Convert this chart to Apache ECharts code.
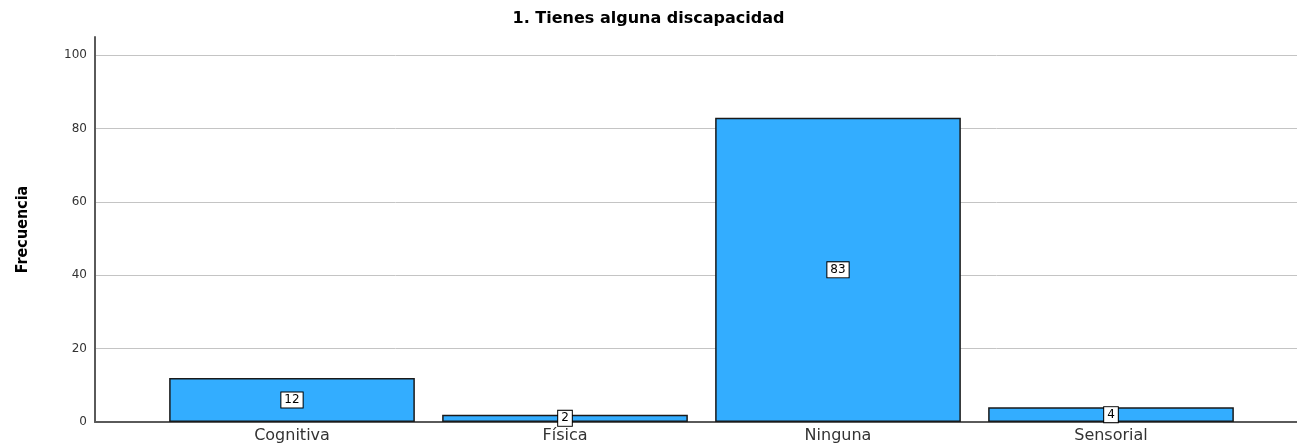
<!DOCTYPE html>
<html>
<head>
<meta charset="utf-8">
<script src="https://cdn.jsdelivr.net/npm/echarts@6/dist/echarts.min.js"></script>
<style>
  html, body { margin: 0; padding: 0; background: #fff; }
  #chart { width: 1297px; height: 445px; }
</style>
</head>
<body>
<div id="chart"></div>
<script>
// datos
var categorias = ['Cognitiva', 'Física', 'Ninguna', 'Sensorial'];
var frecuencias = [12, 2, 83, 4];
var titulo = '1. Tienes alguna discapacidad';
var nombreEjeY = 'Frecuencia';

var myChart = echarts.init(document.getElementById('chart'));

var yComun = {
  type: 'value',
  min: 0,
  max: 105,
  interval: 20
};

var option = {
  animation: false,
  title: {
    text: titulo,
    left: 'center',
    top: 6,
    textStyle: { fontFamily: 'DejaVu Sans', fontSize: 16, fontWeight: 'bold', color: '#000' }
  },
  grid: [
    // marco: eje y, lineas de rejilla y eje x
    { left: 95, right: 0, top: 37, bottom: 23 },
    // barras
    { left: 155.5, right: 49.5, top: 37, bottom: 23 }
  ],
  xAxis: [
    {
      gridIndex: 0,
      type: 'category',
      data: [''],
      axisLine: { show: true, lineStyle: { color: '#5a5a5a', width: 2 } },
      axisTick: { show: false },
      axisLabel: { show: false },
      splitLine: { show: false }
    },
    {
      gridIndex: 1,
      type: 'category',
      data: categorias,
      axisLine: { show: false },
      axisTick: { show: false },
      axisLabel: { margin: 6, fontFamily: 'DejaVu Sans', fontSize: 16, color: '#333' }
    }
  ],
  yAxis: [
    Object.assign({}, yComun, {
      gridIndex: 0,
      name: nombreEjeY,
      nameLocation: 'middle',
      nameGap: 64,
      nameTextStyle: {
        fontFamily: "'DejaVu Sans Condensed', 'Liberation Sans', sans-serif",
        fontSize: 16, fontWeight: 'bold', color: '#000'
      },
      axisLine: { show: true, lineStyle: { color: '#5a5a5a', width: 2 } },
      axisTick: { show: false },
      axisLabel: {
        margin: 8,
        fontFamily: 'DejaVu Sans',
        fontSize: 12,
        color: '#333',
        formatter: function (v) { return v % 20 === 0 ? v : ''; }
      },
      splitLine: { show: true, showMaxLine: false, showMinLine: false, lineStyle: { color: '#c4c4c4', width: 1 } }
    }),
    Object.assign({}, yComun, {
      gridIndex: 1,
      show: false,
      splitLine: { show: false }
    })
  ],
  series: [{
    type: 'bar',
    xAxisIndex: 1,
    yAxisIndex: 1,
    data: frecuencias,
    barCategoryGap: '10%',
    itemStyle: { color: '#33adff', borderColor: '#1a1a1a', borderWidth: 1.5 },
    label: {
      show: true,
      position: 'inside',
      fontFamily: 'DejaVu Sans',
      fontSize: 12,
      color: '#000',
      backgroundColor: '#fff',
      borderColor: '#000',
      borderWidth: 1,
      padding: [2, 3, 1, 3]
    }
  }]
};

myChart.setOption(option);
</script>
</body>
</html>
